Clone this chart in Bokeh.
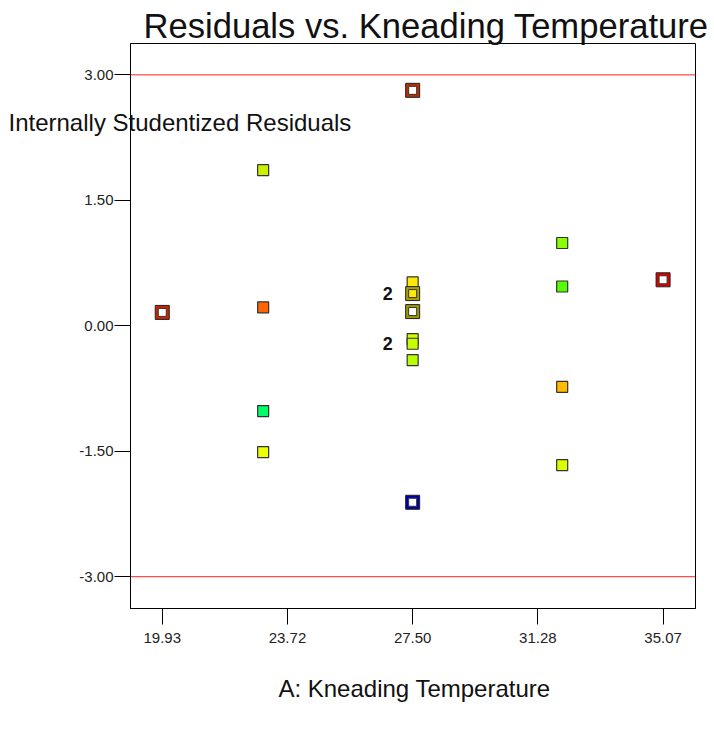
from bokeh.plotting import figure
from bokeh.models import Span, Label, FixedTicker, Range1d, ColumnDataSource
from bokeh.embed import file_html
from bokeh.resources import INLINE
from bokeh.core.properties import value

# ---- data ----
x_ticks = [19.93, 23.715, 27.50, 31.285, 35.07]
x_tick_labels = ["19.93", "23.72", "27.50", "31.28", "35.07"]
y_ticks = [3.0, 1.5, 0.0, -1.5, -3.0]
y_tick_labels = ["3.00", "1.50", "0.00", "-1.50", "-3.00"]
limit_lines = [3.0, -3.0]

# plain filled points
plain_x = [22.98, 22.98, 22.98, 22.98, 27.50, 27.50, 27.50, 27.50, 32.02, 32.02, 32.02, 32.02]
plain_y = [1.86, 0.22, -1.02, -1.51, 0.52, -0.16, -0.215, -0.41, 0.99, 0.47, -0.73, -1.665]
plain_color = ["#ccf000", "#ff6600", "#00ff66", "#eeff00", "#ffea00", "#ccff00",
               "#c8ff00", "#b8ff00", "#88ff00", "#55ff00", "#ffbb00", "#ddff00"]

# boxed (highlighted) points
box_x = [19.93, 27.50, 27.50, 27.50, 27.50, 35.07]
box_y = [0.16, 2.815, 0.385, 0.17, -2.11, 0.55]
box_edge = ["#cc2200", "#b83000", "#a8a000", "#999900", "#0000aa", "#dd0000"]
box_fill = ["#ffffff", "#ffffff", "#ffea00", "#ffffff", "#ffffff", "#ffffff"]

# multiplicity labels
count_x = [27.50, 27.50]
count_y = [0.385, -0.215]
count_text = ["2", "2"]

title_text = "Residuals vs. Kneading Temperature"
ylabel_text = "Internally Studentized Residuals"
xlabel_text = "A: Kneading Temperature"

FONT = "Liberation Sans"

p = figure(width=714, height=727, output_backend="svg", toolbar_location=None,
           x_range=Range1d(18.97, 36.05), y_range=Range1d(-3.38, 3.375),
           min_border_left=130, min_border_right=19, min_border_top=43,
           min_border_bottom=119)
p.background_fill_color = "white"
p.border_fill_color = "white"
p.outline_line_color = "black"
p.outline_line_width = 1
p.grid.visible = False

# axes
p.xaxis.ticker = FixedTicker(ticks=x_ticks)
p.xaxis.major_label_overrides = {t: l for t, l in zip(x_ticks, x_tick_labels)}
p.yaxis.ticker = FixedTicker(ticks=y_ticks)
p.yaxis.major_label_overrides = {t: l for t, l in zip(y_ticks, y_tick_labels)}
for ax in (p.xaxis, p.yaxis):
    ax.major_tick_out = 16
    ax.major_tick_in = 0
    ax.minor_tick_out = 0
    ax.minor_tick_in = 0
    ax.axis_line_color = "black"
    ax.major_tick_line_color = "black"
    ax.major_label_text_font = FONT
    ax.major_label_text_font_size = "15px"
    ax.major_label_text_color = "#222222"
p.yaxis.major_label_standoff = 1
p.xaxis.major_label_standoff = 8

# limit lines
for v in limit_lines:
    p.add_layout(Span(location=v, dimension="width", line_color="#ff2020", line_width=1))

# plain points
src_plain = ColumnDataSource(dict(x=plain_x, y=plain_y, c=plain_color))
p.scatter("x", "y", source=src_plain, marker="square", size=11,
          fill_color="c", line_color="#333333", line_width=1.2)

# boxed points
src_box = ColumnDataSource(dict(x=box_x, y=box_y, e=box_edge, f=box_fill))
p.scatter("x", "y", source=src_box, marker="square", size=14,
          fill_color="e", line_color="#222222", line_width=1)
p.scatter("x", "y", source=src_box, marker="square", size=8,
          fill_color="f", line_color="#333333", line_width=1)

# multiplicity labels
src_cnt = ColumnDataSource(dict(x=count_x, y=count_y, t=count_text))
p.text("x", "y", text="t", source=src_cnt, x_offset=-20, text_align="right",
       text_baseline="middle", text_font=value(FONT), text_font_style="bold",
       text_font_size="18px", text_color="#111111")

# title / axis labels as side-panel (unclipped) annotations in canvas units
p.add_layout(Label(x=143, y=25, x_units="canvas", y_units="canvas",
                   text=title_text, text_font=FONT, text_font_size="34.6px",
                   text_color="#111111", text_align="left",
                   text_baseline="middle"), "above")
p.add_layout(Label(x=8, y=122, x_units="canvas", y_units="canvas",
                   text=ylabel_text, text_font=FONT, text_font_size="24px",
                   text_color="#111111", text_align="left",
                   text_baseline="middle"), "below")
p.add_layout(Label(x=414, y=688, x_units="canvas", y_units="canvas",
                   text=xlabel_text, text_font=FONT, text_font_size="24px",
                   text_color="#111111", text_align="center",
                   text_baseline="middle"), "below")

open("out.html", "w").write(file_html(p, INLINE))
